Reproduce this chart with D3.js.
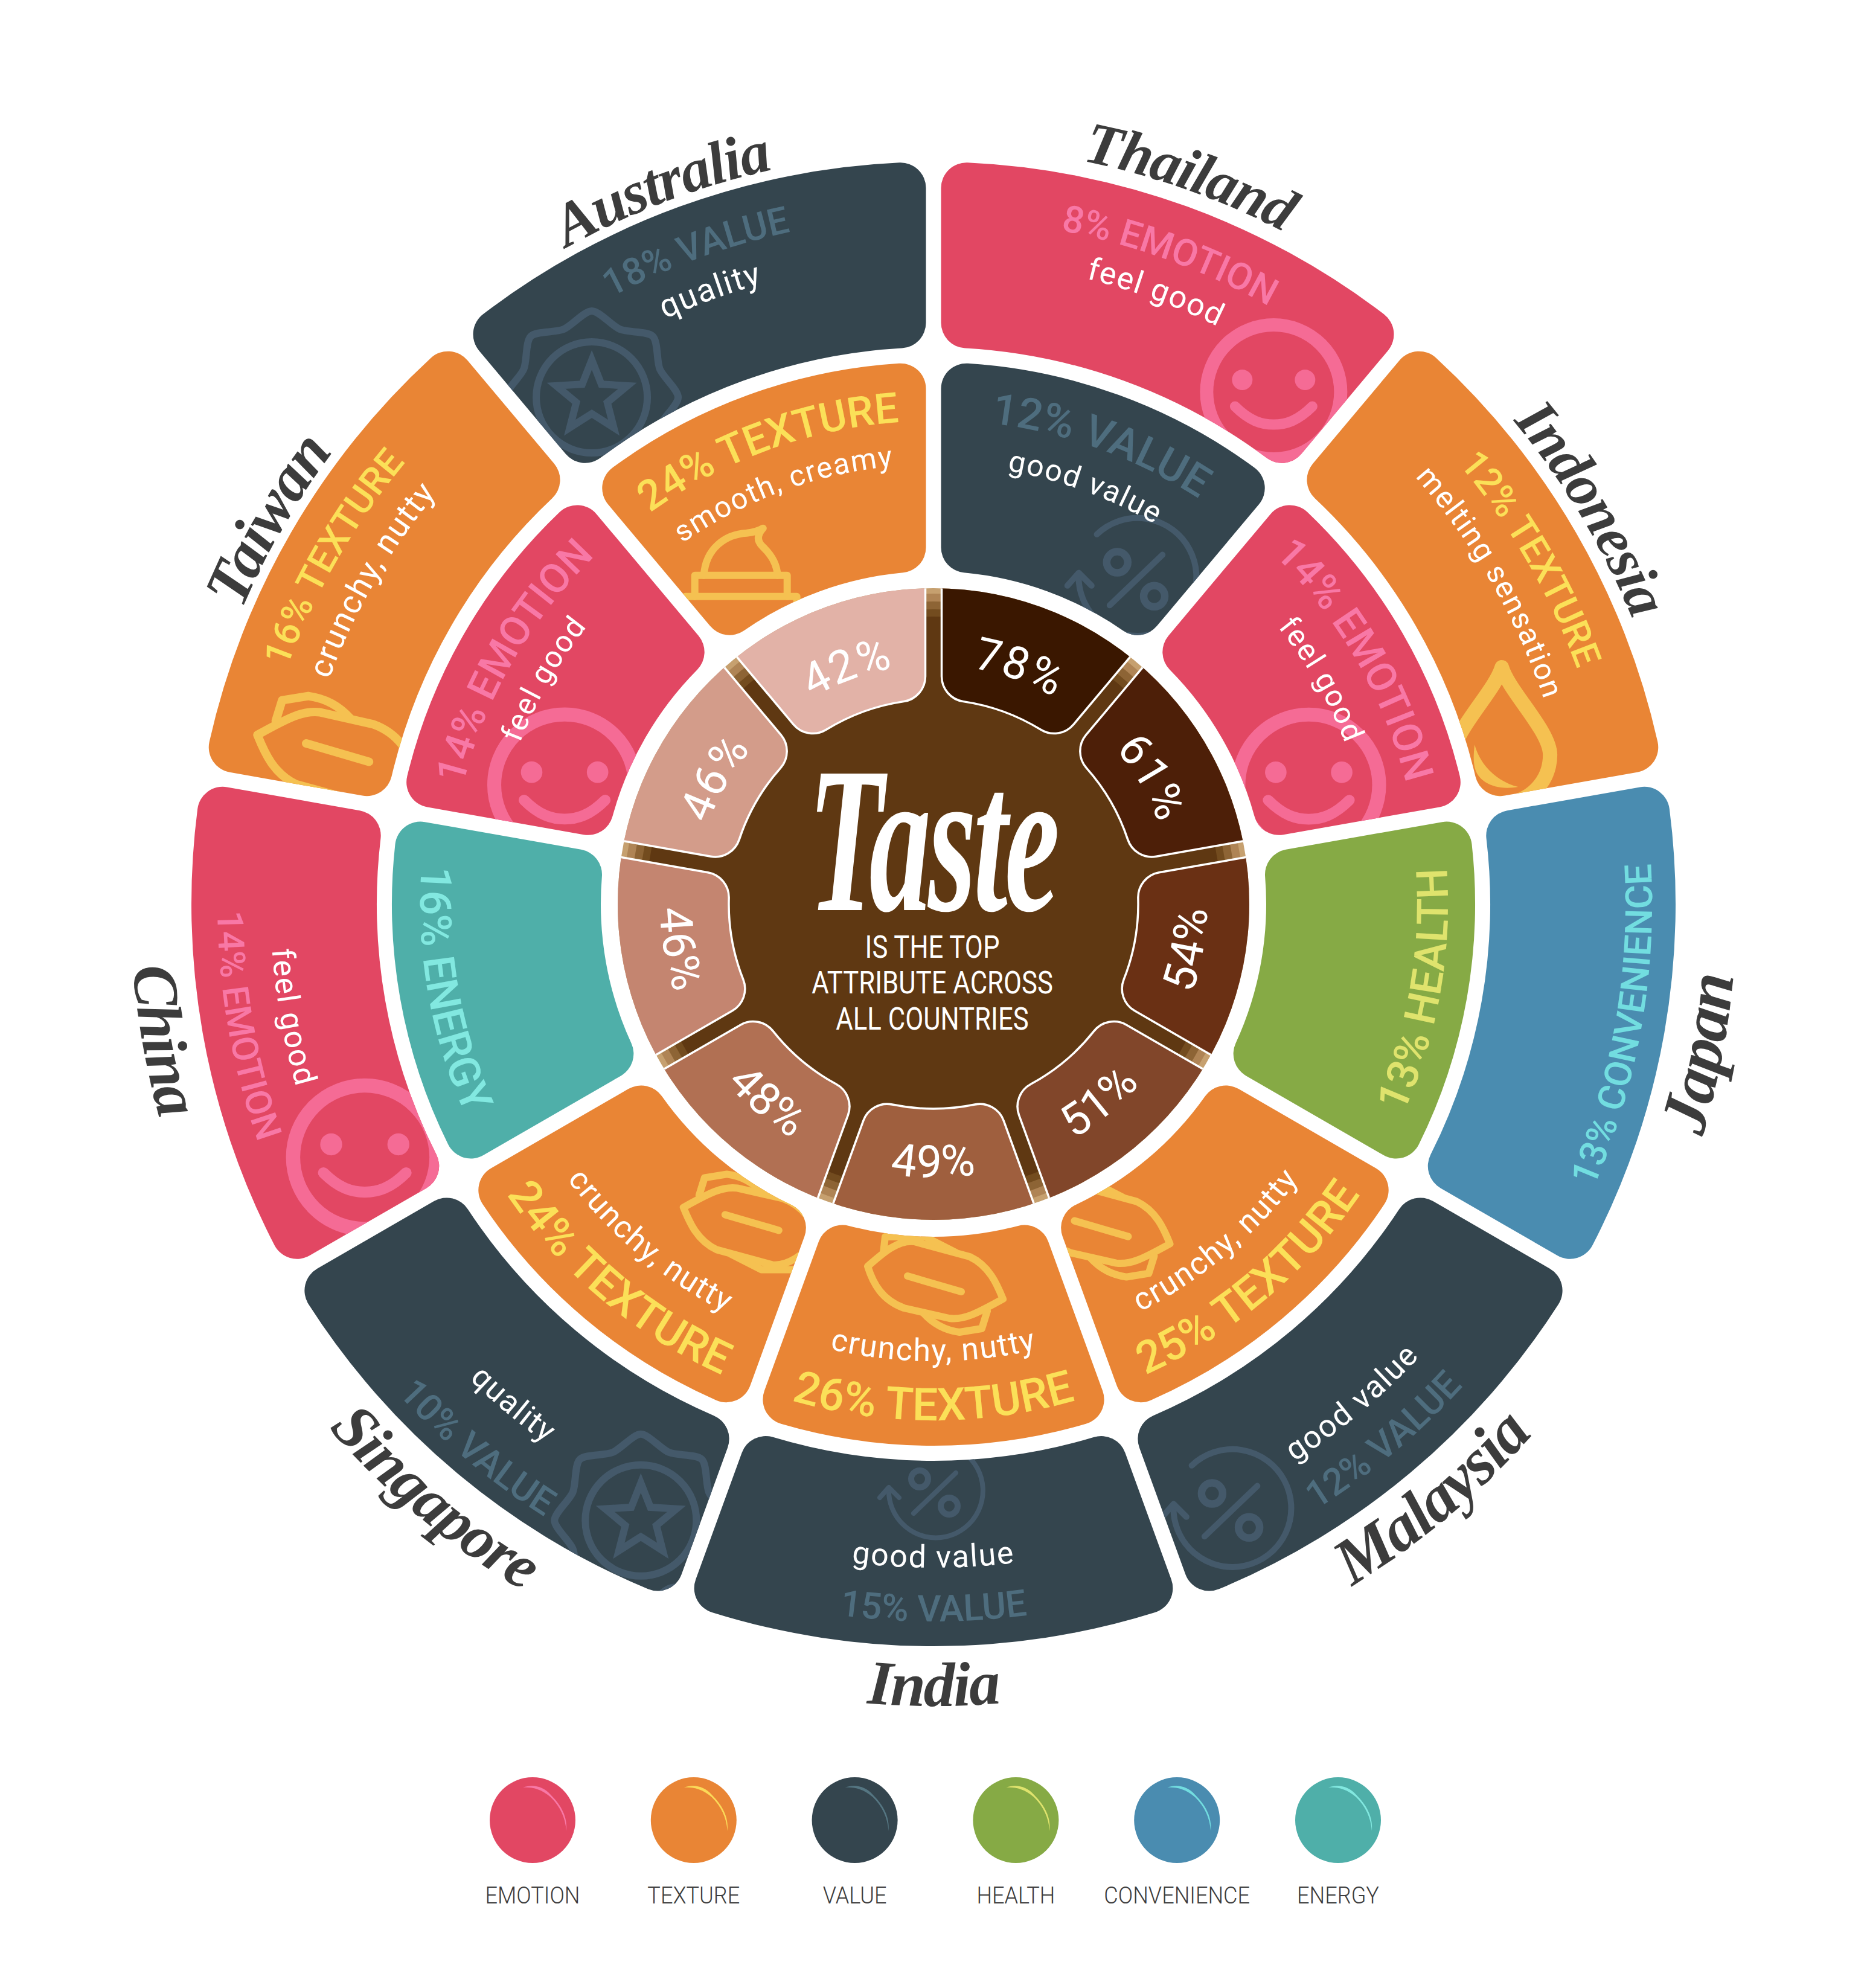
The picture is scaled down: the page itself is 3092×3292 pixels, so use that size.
<!DOCTYPE html>
<html><head><meta charset="utf-8">
<script src="https://cdn.jsdelivr.net/npm/d3@7/dist/d3.min.js"></script>
<style>html,body{margin:0;padding:0;background:#fff}svg{display:block}</style>
</head><body><div id="c"></div>
<script>
// ---------- data ----------
const countries=["Thailand","Indonesia","Japan","Malaysia","India","Singapore","China","Taiwan","Australia"];
const tastePct=[78,61,54,51,49,48,46,46,42];
const midPct=[12,14,13,25,26,24,16,14,24];
const midAttr=["VALUE","EMOTION","HEALTH","TEXTURE","TEXTURE","TEXTURE","ENERGY","EMOTION","TEXTURE"];
const midNote=["good value","feel good","","crunchy, nutty","crunchy, nutty","crunchy, nutty","","feel good","smooth, creamy"];
const outerPct=[8,12,13,12,15,10,14,16,18];
const outerAttr=["EMOTION","TEXTURE","CONVENIENCE","VALUE","VALUE","VALUE","EMOTION","TEXTURE","VALUE"];
const outerNote=["feel good","melting sensation","","good value","good value","quality","feel good","crunchy, nutty","quality"];
const attributes=["EMOTION","TEXTURE","VALUE","HEALTH","CONVENIENCE","ENERGY"];
const tasteFill=["#3a1700","#4d1f08","#6a3014","#81462a","#9f5f3e","#b17053","#c48570","#d39c8a","#e2b2a7"];
const attrFill=["#e24763","#e98535","#34454e","#86aa45","#4a8cb0","#4fafa9"];
const attrText=["#f878a6","#fbe058","#4e6d7e","#dfe36d","#72dde0","#82e8e0"];
const attrIcon=["#f56b95","#f5c151","#44596a","#dfe36d","#72dde0","#82e8e0"];
const attrGloss=["#f878a6","#fbd958","#557682","#dfe36d","#72dde0","#82e8e0"];
const titleLines=["IS THE TOP","ATTRIBUTE ACROSS","ALL COUNTRIES"];

// ---------- layout ----------
const W=3092,H=3292,cx=1546,cy=1497;
const outerPctR=[1135,1135,1190,1186,1188,1202,1186,1140,1138];
const outerNoteR=[1066,1066,0,1100,1099,1100,1098,1068,1066];
const midPctR=[802,808,852,855,855,855,850,804,800];
const midNoteR=[728,732,0,757,757,759,0,735,728];
const countryR=[1255,1250,1330,1325,1328,1325,1330,1245,1245];
const countryShift=[-0.6,-1,1,0,0,0,0,0,-0.8];
const countrySize=[98,98,110,108,104,104,104,104,100];
const outerPctSize=[62,62,62,62,61,62,60,62,62];
const outerNoteSize=[52,50,0,52,52,52,52,54,54];
const midPctSize=[72,68,72,74,75,74,72,68,70];
const midNoteSize=[50,50,0,52,52,52,0,50,49];
const outerIconPolar=[[1018,33.6,1],[973,75.3,1],null,[1118,154,1.25],[975,180,1],[1130,205.4,1],[1031,246,1.07],[1018,284.6,1.17],[1012,-34,1]];
const midIconPolar=[[632,31.8,1.25],[652,72.4,1.05],null,[609,153,1],[634,180,1],[602,209.8,1],null,[642,287.9,1.05],[631,329.6,1]];
const iconTurn={"Singapore":180,"Taiwan":180};

const svg=d3.select("#c").append("svg").attr("width",W).attr("height",H).attr("viewBox",`0 0 ${W} ${H}`);
const defs=svg.append("defs");
const root=svg.append("g").attr("transform",`translate(${cx},${cy})`);
const SANS="Roboto,'Noto Sans',sans-serif", SCRIPT="'Liberation Serif',serif";

const angle=d3.scaleBand().domain(countries).range([0,2*Math.PI]);
const color=d3.scaleOrdinal().domain(attributes).range(attrFill);
const colorText=d3.scaleOrdinal().domain(attributes).range(attrText);
const colorIcon=d3.scaleOrdinal().domain(attributes).range(attrIcon);
const colorGloss=d3.scaleOrdinal().domain(attributes).range(attrGloss);

function sector(c,r0,r1,pad,corner){
  const a=angle(c);
  return d3.arc().innerRadius(r0).outerRadius(r1).startAngle(a).endAngle(a+angle.bandwidth())
    .padRadius(r1).padAngle(pad/r1).cornerRadius(corner)();
}
let uid=0;
function curved(g,text,r,deg,size,fill,weight,spacing,font){
  if(!text) return;
  const rad=(deg-90)*Math.PI/180, span=Math.PI*0.45;
  const bottom=deg%360>90&&deg%360<270;
  const p=d3.path();
  if(bottom){p.moveTo(r*Math.cos(rad+span),r*Math.sin(rad+span));p.arc(0,0,r,rad+span,rad-span,true);}
  else{p.moveTo(r*Math.cos(rad-span),r*Math.sin(rad-span));p.arc(0,0,r,rad-span,rad+span,false);}
  const id="tp"+(uid++);
  defs.append("path").attr("id",id).attr("d",p.toString());
  g.append("text").attr("font-family",font||SANS).attr("font-size",size).attr("font-weight",weight||400)
   .attr("letter-spacing",spacing||0).attr("fill",fill).attr("text-anchor","middle")
   .append("textPath").attr("href","#"+id).attr("startOffset","50%").text(text);
}
// ---------- icons ----------
const icons={
 "feel good":(g,col)=>{
   g.append("circle").attr("r",111).attr("fill","none").attr("stroke",col).attr("stroke-width",22);
   [-52,52].forEach(x=>g.append("ellipse").attr("cx",x).attr("cy",-20).attr("rx",17).attr("ry",17).attr("fill",col));
   g.append("path").attr("d","M-64,24 C-40,48 -20,54 0,54 C20,54 40,48 64,24").attr("fill","none").attr("stroke",col).attr("stroke-width",17).attr("stroke-linecap","round");
 },
 "good value":(g,col)=>{
   const s=g.append("g").attr("fill","none").attr("stroke",col).attr("stroke-width",8).attr("stroke-linecap","round").attr("stroke-linejoin","round");
   s.append("path").attr("d","M-50,-60 A78,78 0 1 1 -74,-8");
   s.append("path").attr("d","M-89,8 L-74,-9 L-57,8");
   s.append("path").attr("d","M37,-33 L-33,34");
   s.append("circle").attr("cx",-23).attr("cy",-23).attr("r",14).attr("stroke-width",10);
   s.append("circle").attr("cx",26).attr("cy",22).attr("r",14).attr("stroke-width",10);
 },
 "quality":(g,col)=>{
   const s=g.append("g").attr("fill","none").attr("stroke",col).attr("stroke-width",12).attr("stroke-linejoin","miter");
   const lobes=d3.range(16).map(i=>[i*Math.PI/8,i%2?122:143]);
   s.append("path").attr("d",d3.lineRadial().curve(d3.curveCardinalClosed.tension(0.2))(lobes));
   s.append("circle").attr("r",92);
   const star=d3.range(10).map(i=>[i*Math.PI/5,i%2?27:62]);
   s.append("path").attr("d",d3.lineRadial().curve(d3.curveLinearClosed)(star));
 },
 "crunchy, nutty":(g,col)=>{
   const s=g.append("g").attr("fill","none").attr("stroke",col).attr("stroke-width",12).attr("stroke-linecap","round").attr("stroke-linejoin","round");
   s.append("path").attr("d","M115,20 C105,-5 92,-35 60,-50 L-32,-75 C-60,-78 -85,-55 -109,-34 C-100,-5 -85,22 -49,35 L26,52 C50,55 70,45 115,20 Z");
   s.append("path").attr("d","M-83,-57 L-80,-83 L-14,-83 L37,-57");
   s.append("path").attr("d","M-17,43 C0,62 20,72 43,75 L80,69 L89,40");
   s.append("path").attr("d","M-43,-18 L46,8");
 },
 "melting sensation":(g,col)=>{
   g.append("path").attr("d","M0,-145 C12,-105 80,-40 80,0 C80,45 45,80 0,80 C-45,80 -80,45 -80,0 C-80,-40 -12,-105 0,-145 Z").attr("fill","none").attr("stroke",col).attr("stroke-width",24).attr("stroke-linejoin","round");
   g.append("path").attr("d","M-45,-17 C-35,20 -5,45 27,53 C-10,60 -40,45 -45,20 C-47,10 -47,0 -45,-17 Z").attr("fill",col);
 },
 "smooth, creamy":(g,col)=>{
   const s=g.append("g").attr("fill","none").attr("stroke",col).attr("stroke-width",12).attr("stroke-linecap","round").attr("stroke-linejoin","round");
   s.append("path").attr("d","M-61,0 C-58,-45 -25,-68 10,-70 C20,-71 30,-74 37,-78 C28,-68 26,-58 36,-48 C50,-35 60,-20 61,0");
   s.append("path").attr("d","M-76,35 L-76,0 L77,0 L77,35");
   s.append("path").attr("d","M-92,60 L-92,35 L93,35 L93,60");
 }
};
function placeIcon(g,c,note,attr,polar,sectorPath){
  if(!note||!polar) return;
  const id="clip"+(uid++);
  defs.append("clipPath").attr("id",id).append("path").attr("d",sectorPath);
  const a=(polar[1]-90)*Math.PI/180;
  const holder=g.append("g").attr("clip-path",`url(#${id})`);
  const ig=holder.append("g").attr("transform",`translate(${polar[0]*Math.cos(a)},${polar[0]*Math.sin(a)}) rotate(${note==="crunchy, nutty"?(iconTurn[c]||0):0}) scale(${polar[2]})`);
  icons[note](ig,colorIcon(attr));
}
// ---------- rings ----------
function ring(r0,r1,attrs,notes,pcts,pctR,noteR,pctSize,noteSize,polars){
  countries.forEach((c,i)=>{
    const d=sector(c,r0,r1,25,42), g=root.append("g");
    g.append("path").attr("d",d).attr("fill",color(attrs[i]));
    placeIcon(g,c,notes[i],attrs[i],polars[i],d);
    const mid=(angle(c)+angle.bandwidth()/2)*180/Math.PI;
    curved(g,`${pcts[i]}% ${attrs[i]}`,pctR[i],mid,pctSize[i],colorText(attrs[i]),500,0);
    curved(g,notes[i],noteR[i],mid,noteSize[i],"#fff",400,2);
  });
}
ring(922,1229,outerAttr,outerNote,outerPct,outerPctR,outerNoteR,outerPctSize,outerNoteSize,outerIconPolar);
ring(551,897,midAttr,midNote,midPct,midPctR,midNoteR,midPctSize,midNoteSize,midIconPolar);

// ---------- centre disc ----------
[[523,"#c6a06f"],[514,"#af8455"],[501,"#8d6435"],[488,"#734c1f"],[476,"#5f3812"]].forEach(([r,f])=>
  root.append("circle").attr("r",r).attr("fill",f));
defs.append("clipPath").attr("id","discClip").append("circle").attr("r",523);
const wedges=root.append("g").attr("clip-path","url(#discClip)");
countries.forEach((c,i)=>{
  wedges.append("path").attr("d",sector(c,339,640,27,42)).attr("fill",tasteFill[i]).attr("stroke","#fff").attr("stroke-width",3.5);
});
countries.forEach((c,i)=>{
  const mid=(angle(c)+angle.bandwidth()/2)*180/Math.PI;
  const bottom=mid>90&&mid<270;
  curved(root,tastePct[i]+"%",bottom?453:396,mid,75,"#fff",400,2);
});
// ---------- title ----------
root.append("text").attr("transform","translate(-2,10) scale(0.82,1.38)").attr("text-anchor","middle")
  .attr("font-family",SCRIPT).attr("font-weight",700).attr("font-style","italic").attr("font-size",250).attr("letter-spacing",-6).attr("fill","#fff").text("Taste");
const tb=[89,148,208];
titleLines.forEach((t,i)=>root.append("text").attr("transform",`translate(-2,${tb[i]}) scale(0.84,1)`).attr("text-anchor","middle")
  .attr("font-family",SANS).attr("font-weight",400).attr("font-size",52).attr("fill","#fff").text(t));
// ---------- countries ----------
countries.forEach((c,i)=>{
  const mid=(angle(c)+angle.bandwidth()/2)*180/Math.PI+countryShift[i];
  curved(root,c,countryR[i],mid,countrySize[i],"#3c3c3c",700,-2,SCRIPT);
});
svg.selectAll("text").filter(function(){return this.getAttribute("font-family")===SCRIPT}).attr("font-style","italic");
// ---------- legend ----------
const legendX=d3.scalePoint().domain(attributes).range([882,2216]);
const legend=svg.append("g");
attributes.forEach(a=>{
  const g=legend.append("g").attr("transform",`translate(${legendX(a)},3014)`);
  g.append("circle").attr("r",71).attr("fill",color(a));
  g.append("path").attr("d","M-16,-54 C0,-60 18,-56 30,-42 C48,-24 58,-5 56,18 C54,-5 46,-22 30,-38 C14,-52 -2,-55 -16,-54 Z").attr("fill",colorGloss(a));
  g.append("text").attr("transform","translate(0,138) scale(0.95,1)").attr("text-anchor","middle")
    .attr("font-family",SANS).attr("font-weight",300).attr("font-size",38).attr("fill","#3c3c3c").text(a);
});
</script></body></html>
